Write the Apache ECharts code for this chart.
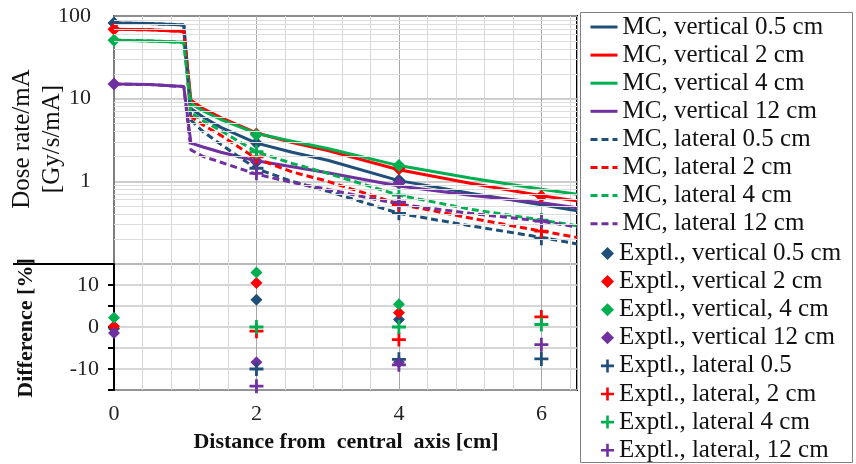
<!DOCTYPE html>
<html><head><meta charset="utf-8">
<script src="https://cdn.jsdelivr.net/npm/echarts@6/dist/echarts.min.js"></script>
<style>html,body{margin:0;padding:0;background:#fff}#c{width:856px;height:464px}</style>
</head><body><div id="c"></div>
<script>
// ---- data ----
const xMC = [0, 0.5, 0.98, 1.08, 1.25, 1.5, 2, 2.5, 3, 4, 5, 6, 6.5];
const mcVert05 = [82, 81, 78, 7.6, 6.0, 4.5, 2.9, 2.25, 1.8, 1.02, 0.72, 0.52, 0.44];
const mcVert2  = [69, 68, 65, 9.6, 7.6, 5.9, 3.85, 2.95, 2.35, 1.38, 0.95, 0.67, 0.58];
const mcVert4  = [51, 50, 48, 8.7, 7.1, 5.6, 3.8, 3.05, 2.5, 1.55, 1.1, 0.8, 0.7];
const mcVert12 = [15, 14.8, 14, 2.9, 2.6, 2.25, 1.77, 1.5, 1.27, 0.88, 0.68, 0.55, 0.48];
const mcLat05  = [82, 81, 78, 5.5, 4.0, 2.8, 1.42, 1.0, 0.76, 0.41, 0.29, 0.21, 0.175];
const mcLat2   = [69, 68, 65, 6.1, 4.8, 3.6, 1.88, 1.3, 1.0, 0.53, 0.36, 0.25, 0.21];
const mcLat4   = [51, 50, 48, 6.8, 5.4, 4.1, 2.27, 1.65, 1.25, 0.68, 0.46, 0.34, 0.29];
const mcLat12  = [15, 14.8, 14, 2.4, 2.0, 1.7, 1.22, 0.97, 0.8, 0.53, 0.41, 0.33, 0.28];

const xExp = [0, 2, 4, 6];
const expVert05 = [82, 2.9, 1.03, null];
const expVert2  = [69, 3.75, 1.42, 0.66];
const expVert4  = [51, 3.65, 1.55, null];
const expVert12 = [15, 1.73, 0.95, null];
const expLat05  = [null, 1.44, 0.41, 0.205];
const expLat2   = [null, 1.98, 0.52, 0.25];
const expLat4   = [null, 2.28, 0.68, 0.34];
const expLat12  = [null, 1.25, 0.56, 0.33];

const diffVert05 = [-0.4, 6.5, 1.8, null];
const diffVert2  = [0.2, 10.5, 3.4, null];
const diffVert4  = [2.2, 13.0, 5.4, null];
const diffVert12 = [-1.4, -8.4, -8.4, null];
const diffLat05  = [null, -10.0, -7.7, -7.6];
const diffLat2   = [null, -1.0, -3.0, 2.4];
const diffLat4   = [null, 0.0, 0.0, 0.6];
const diffLat12  = [null, -14.1, -9.0, -4.2];

const logMinor = [0.2,0.3,0.4,0.5,0.6,0.7,0.8,0.9,2,3,4,5,6,7,8,9,20,30,40,50,60,70,80,90];
const topTicks = ['1', '10', '100'];
const diffTicks = ['-10', '0', '10'];

const mcNames = ['MC, vertical 0.5 cm','MC, vertical 2 cm','MC, vertical 4 cm','MC, vertical 12 cm',
  'MC, lateral 0.5 cm','MC, lateral 2 cm','MC, lateral 4 cm','MC, lateral 12 cm'];
const expNames = ['Exptl., vertical 0.5 cm','Exptl., vertical 2 cm','Exptl., vertical, 4 cm','Exptl., vertical 12 cm',
  'Exptl., lateral 0.5','Exptl., lateral, 2 cm','Exptl., lateral 4 cm','Exptl., lateral, 12 cm'];

// ---- styling ----
const colors = ['#1F4E79', '#FF0000', '#00B050', '#7030A0'];
const FONT = 'Liberation Serif';
const plusPath = 'path://M4,0L6,0L6,4L10,4L10,6L6,6L6,10L4,10L4,6L0,6L0,4L4,4Z';

const mcSets = [mcVert05, mcVert2, mcVert4, mcVert12, mcLat05, mcLat2, mcLat4, mcLat12];
const expSets = [expVert05, expVert2, expVert4, expVert12, expLat05, expLat2, expLat4, expLat12];
const diffSets = [diffVert05, diffVert2, diffVert4, diffVert12, diffLat05, diffLat2, diffLat4, diffLat12];

const zip = (xs, ys) => xs.map((x, i) => [x, ys[i]]).filter(p => p[1] !== null);

const series = [];
series.push({
  type: 'line', name: '_grid', xAxisIndex: 0, yAxisIndex: 0, data: [[0, 100]], symbol: 'none',
  lineStyle: { opacity: 0 }, silent: true, z: 1,
  markLine: { silent: true, symbol: 'none', label: { show: false },
    lineStyle: { color: '#dcdcdc', width: 1, type: 'solid' },
    data: logMinor.map(v => ({ yAxis: v })) }
});
mcSets.forEach((d, i) => {
  series.push({
    type: 'line', name: mcNames[i], xAxisIndex: 0, yAxisIndex: 0,
    data: zip(xMC, d), symbol: 'none', showSymbol: false, smooth: false,
    lineStyle: { color: colors[i % 4], width: 3, type: i < 4 ? 'solid' : [7, 4] },
    itemStyle: { color: colors[i % 4], opacity: 0 }, z: 3
  });
});
expSets.forEach((d, i) => {
  const isPlus = i >= 4;
  series.push({
    type: 'scatter', name: expNames[i], xAxisIndex: 0, yAxisIndex: 0,
    data: zip(xExp, d), symbol: isPlus ? plusPath : 'diamond', symbolSize: isPlus ? 14 : 13,
    itemStyle: { color: colors[i % 4], opacity: 1 }, z: 4
  });
});
diffSets.forEach((d, i) => {
  const isPlus = i >= 4;
  series.push({
    type: 'scatter', name: expNames[i], xAxisIndex: 2, yAxisIndex: 1,
    data: zip(xExp, d), symbol: isPlus ? plusPath : 'diamond', symbolSize: isPlus ? 14 : 12,
    itemStyle: { color: colors[i % 4], opacity: 1 }, z: 4
  });
});

const hidden = { show: false };
const legendText = { fontFamily: FONT, fontSize: 25, color: '#111', lineHeight: 26 };
const option = {
  animation: false,
  backgroundColor: '#fff',
  textStyle: { fontFamily: FONT },
  grid: [
    { left: 114, top: 16, width: 463, height: 248, show: true, borderColor: '#000', borderWidth: 2, backgroundColor: 'transparent' },
    { left: 114, top: 264, width: 463, height: 126, show: true, borderColor: '#000', borderWidth: 2, backgroundColor: 'transparent' }
  ],
  xAxis: [
    { gridIndex: 0, position: 'bottom', type: 'value', min: 0, max: 6.5, interval: 0.4, axisLabel: hidden, axisTick: hidden, axisLine: hidden,
      splitLine: { show: true, lineStyle: { color: '#d6d6d6', width: 1 } } },
    { gridIndex: 0, position: 'bottom', type: 'value', min: 0, max: 6.5, interval: 2, axisLabel: hidden, axisTick: hidden, axisLine: hidden,
      splitLine: { show: true, lineStyle: { color: '#a8a8a8', width: 1 } } },
    { gridIndex: 1, position: 'bottom', type: 'value', min: 0, max: 6.5, interval: 0.4, axisLabel: hidden, axisTick: hidden, axisLine: hidden,
      splitLine: { show: true, lineStyle: { color: '#d6d6d6', width: 1 } } },
    { gridIndex: 1, position: 'bottom', type: 'value', min: 0, max: 6.5, interval: 2, axisTick: hidden, axisLine: hidden,
      axisLabel: { show: true, margin: 13, fontSize: 22, color: '#222', fontFamily: FONT,
        formatter: v => (Math.abs(v - Math.round(v)) < 1e-6 && v <= 6) ? String(Math.round(v)) : '' },
      splitLine: { show: true, lineStyle: { color: '#a8a8a8', width: 1 } } }
  ],
  yAxis: [
    { gridIndex: 0, position: 'left', type: 'log', logBase: 10, min: 0.1, max: 100,
      axisLine: { show: true, lineStyle: { color: '#7f7f7f', width: 2 } }, axisTick: hidden,
      axisLabel: { show: true, margin: 23, fontSize: 22, color: '#222', fontFamily: FONT,
        formatter: v => { const s = v >= 100 ? '100' : v >= 10 ? '10' : v >= 1 ? '1' : ''; return topTicks.includes(s) ? s : ''; } },
      splitLine: { show: true, lineStyle: { color: '#bdbdbd', width: 1.5 } } },
    { gridIndex: 1, position: 'left', type: 'value', min: -15, max: 15, interval: 5,
      axisLine: { show: true, lineStyle: { color: '#000', width: 2 } },
      axisTick: { show: true, inside: false, length: 6, lineStyle: { color: '#000', width: 2 } },
      axisLabel: { show: true, margin: 15, fontSize: 22, color: '#222', fontFamily: FONT,
        formatter: v => diffTicks.includes(String(v)) ? String(v) : '' },
      splitLine: { show: true, lineStyle: { color: '#c8c8c8', width: 1.5 } } }
  ],
  legend: [
    { show: true, orient: 'vertical', left: 589, top: 14, padding: 0,
      itemWidth: 27, itemHeight: 14, itemGap: 2.1,
      data: mcNames.map(n => ({ name: n, lineStyle: { width: 3 } })),
      textStyle: legendText, inactiveColor: '#ccc' },
    { show: true, orient: 'vertical', left: 601, top: 240.5, padding: 0,
      itemWidth: 13, itemHeight: 13, itemGap: 2.1,
      data: expNames,
      textStyle: legendText, inactiveColor: '#ccc' }
  ],
  graphic: [
    { type: 'rect', shape: { x: 580.5, y: 12.5, width: 272, height: 450 }, style: { fill: 'none', stroke: '#808080', lineWidth: 1 }, silent: true },
    { type: 'line', shape: { x1: 13, y1: 264, x2: 114, y2: 264 }, style: { stroke: '#000', lineWidth: 2 }, silent: true },
    { type: 'text', x: 37, y: 139, rotation: Math.PI / 2,
      style: { text: 'Dose rate/mA\n[Gy/s/mA]', fontFamily: FONT, fontSize: 25, lineHeight: 30, fill: '#111', align: 'center', verticalAlign: 'middle' } },
    { type: 'text', x: 26, y: 328, rotation: Math.PI / 2,
      style: { text: 'Difference [%]', fontFamily: FONT, fontSize: 22, fontWeight: 'bold', fill: '#111', align: 'center', verticalAlign: 'middle' } },
    { type: 'text', x: 346, y: 442,
      style: { text: 'Distance from  central  axis [cm]', fontFamily: FONT, fontSize: 22, fontWeight: 'bold', fill: '#111', align: 'center', verticalAlign: 'middle' } }
  ],
  series: series
};
const chart = echarts.init(document.getElementById('c'), null, { renderer: 'canvas' });
chart.setOption(option);
</script>
</body></html>
